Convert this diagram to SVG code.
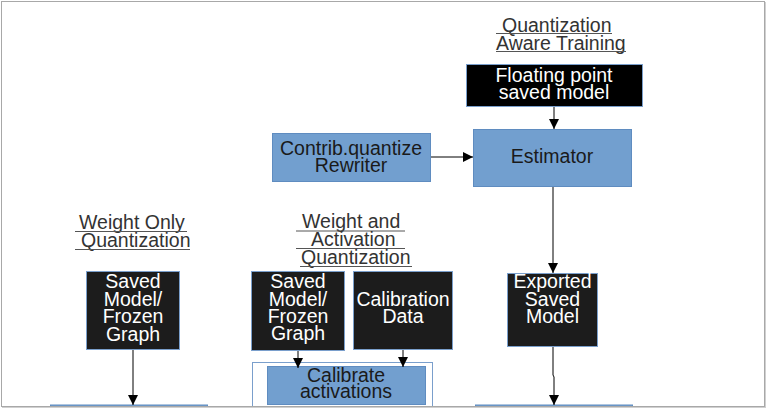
<svg xmlns="http://www.w3.org/2000/svg" width="766" height="409" viewBox="0 0 766 409">
<defs>
<marker id="ah" viewBox="0 0 10 10" refX="10" refY="5" markerWidth="10" markerHeight="10" markerUnits="userSpaceOnUse" orient="auto">
<path d="M0,0 L10,5 L0,10 z" fill="#000"/>
</marker>
<style>
text{font-family:"Liberation Sans",Arial,sans-serif;font-size:19.5px}
.dark rect{fill:#1c1c1c;stroke:#7a9fcc;stroke-width:1}
.dark text{fill:#fff;text-anchor:middle}
.blue rect{fill:#729fcf;stroke:#5f8cc0;stroke-width:1}
.blue text{fill:#1a1a1a;text-anchor:middle}
.title text{fill:#333}
.title line{stroke:#555;stroke-width:1}
.conn line,.conn path{stroke:#000;stroke-width:1;fill:none}
</style>
</defs>
<rect x="0" y="0" width="766" height="409" fill="#fff"/>

<g id="title-qat" class="title">
<text x="502" y="31.5">Quantization</text>
<line x1="496" y1="33.5" x2="612" y2="33.5"/>
<text x="496" y="49.5">Aware Training</text>
<line x1="496" y1="51.5" x2="626" y2="51.5"/>
</g>

<g id="title-wo" class="title">
<text x="79" y="229">Weight Only</text>
<line x1="75" y1="231.5" x2="187" y2="231.5"/>
<text x="81" y="247">Quantization</text>
<line x1="75" y1="249.5" x2="190" y2="249.5"/>
</g>

<g id="title-wa" class="title">
<text x="302" y="228">Weight and</text>
<line x1="296" y1="231" x2="405" y2="231"/>
<text x="311" y="246">Activation</text>
<line x1="296" y1="248.5" x2="405" y2="248.5"/>
<text x="301" y="264">Quantization</text>
<line x1="300" y1="266.5" x2="412" y2="266.5"/>
</g>

<g id="floating" class="dark">
<rect x="466.5" y="64.5" width="176" height="42" style="fill:#000"/>
<text x="554" y="82">Floating point</text>
<text x="554" y="99">saved model</text>
</g>

<g id="estimator" class="blue">
<rect x="473.5" y="129.5" width="158" height="57"/>
<text x="552" y="163">Estimator</text>
</g>

<g id="rewriter" class="blue">
<rect x="272.5" y="133.5" width="158" height="48"/>
<text x="351" y="155">Contrib.quantize</text>
<text x="351" y="172">Rewriter</text>
</g>

<g id="exported" class="dark">
<rect x="507.5" y="273.5" width="90" height="73"/>
<text x="552.5" y="288">Exported</text>
<text x="552.5" y="306">Saved</text>
<text x="552.5" y="323">Model</text>
</g>

<g id="saved-left" class="dark">
<rect x="86.5" y="271.5" width="93" height="78"/>
<text x="133" y="288">Saved</text>
<text x="133" y="306">Model/</text>
<text x="133" y="323">Frozen</text>
<text x="133" y="341">Graph</text>
</g>

<g id="saved-mid" class="dark">
<rect x="251.5" y="271.5" width="93" height="79"/>
<text x="298" y="288">Saved</text>
<text x="298" y="306">Model/</text>
<text x="298" y="323">Frozen</text>
<text x="298" y="340">Graph</text>
</g>

<g id="calib-data" class="dark">
<rect x="353.5" y="271.5" width="99" height="78"/>
<text x="403" y="306">Calibration</text>
<text x="403" y="323">Data</text>
</g>

<g id="calib-group">
<rect x="252.5" y="362.5" width="180" height="60" fill="#fff" stroke="#7a9fcc" stroke-width="1"/>
</g>

<g id="calibrate" class="blue">
<rect x="267.5" y="366.5" width="158" height="38"/>
<text x="346" y="382">Calibrate</text>
<text x="346" y="398">activations</text>
</g>

<g id="bottom-left" class="blue">
<rect x="50.5" y="405" width="157" height="10"/>
</g>
<g id="bottom-right" class="blue">
<rect x="475.5" y="405" width="157" height="10"/>
</g>

<g id="connectors" class="conn">
<line x1="554" y1="107" x2="554" y2="129" marker-end="url(#ah)"/>
<line x1="431" y1="157" x2="473" y2="157" marker-end="url(#ah)"/>
<line x1="553" y1="187" x2="553" y2="273" marker-end="url(#ah)"/>
<path d="M553,347 L553,375 L554,377 L554,405" marker-end="url(#ah)"/>
<line x1="133" y1="350" x2="133" y2="405" marker-end="url(#ah)"/>
<line x1="298" y1="351" x2="298" y2="368" marker-end="url(#ah)"/>
<line x1="403" y1="350" x2="403" y2="367" marker-end="url(#ah)"/>
</g>

<g id="frame">
<rect x="0" y="407" width="766" height="2" fill="#fff"/>
<rect x="765" y="0" width="1" height="409" fill="#fff"/>
<rect x="1.5" y="1.5" width="763" height="405" fill="none" stroke="#a8a8a8" stroke-width="1"/>
<line x1="2" y1="407.5" x2="765" y2="407.5" stroke="#d0d0d0" stroke-width="1"/>
<line x1="765.5" y1="2" x2="765.5" y2="408" stroke="#d0d0d0" stroke-width="1"/>
</g>
</svg>
